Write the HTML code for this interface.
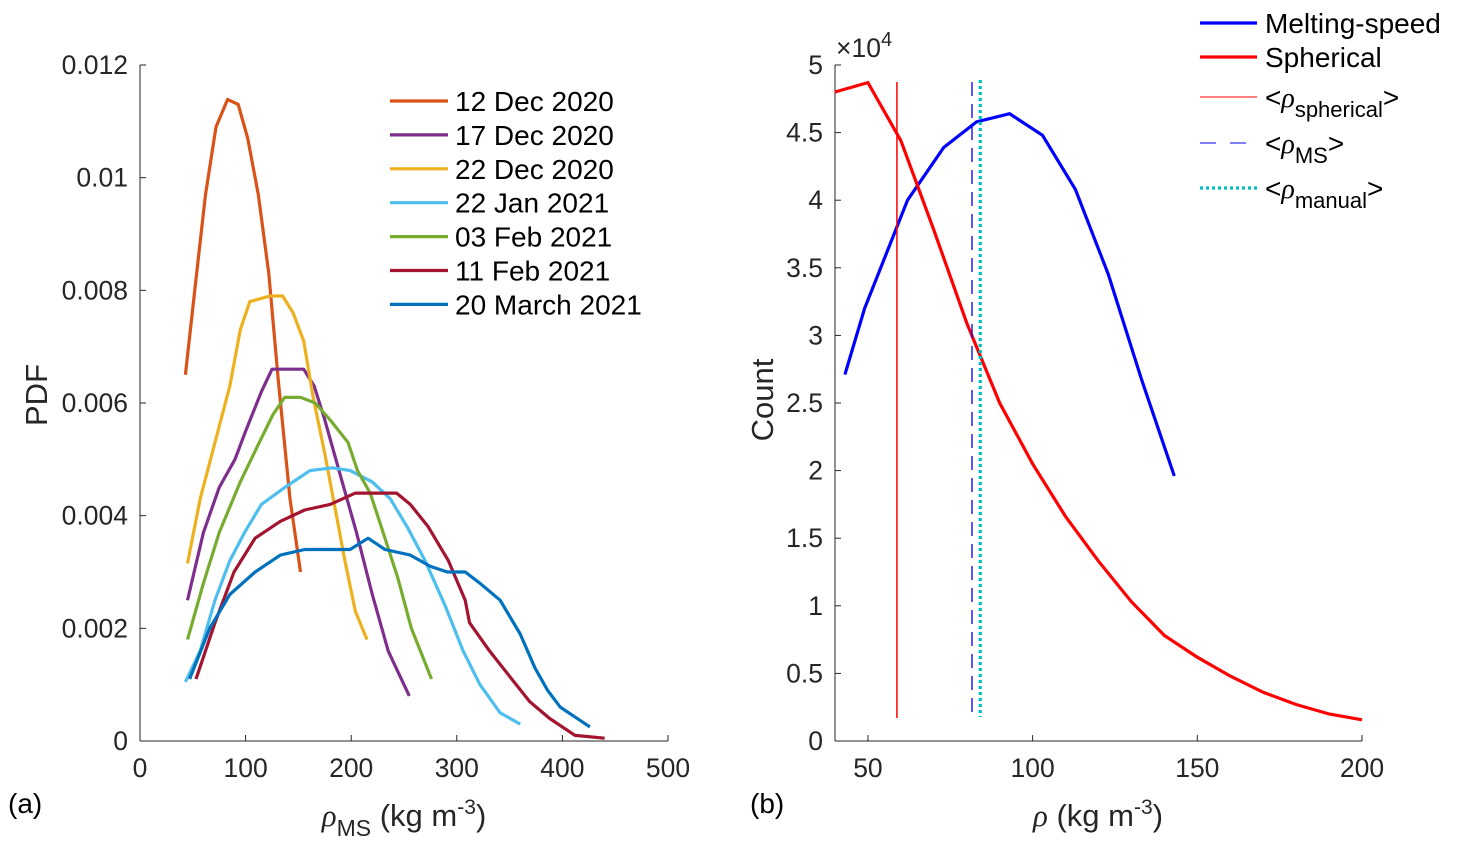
<!DOCTYPE html>
<html><head><meta charset="utf-8"><style>
html,body{margin:0;padding:0;background:#fff;}
svg{display:block;font-family:"Liberation Sans",Arial,sans-serif;}
</style></head><body>
<svg id="fig" width="1457" height="853" viewBox="0 0 1457 853" xmlns="http://www.w3.org/2000/svg">
<g id="gA"></g>
<g id="gB"></g>
</svg>
<script>
// ---------- Panel (a) data ----------
const aSeriesNames = ["12 Dec 2020","17 Dec 2020","22 Dec 2020","22 Jan 2021","03 Feb 2021","11 Feb 2021","20 March 2021"];
const aColors = ["#D95319","#7E2F8E","#EDB120","#4DBEEE","#77AC30","#A2142F","#0072BD"];
const aX0 = [43,53,62,72,83,93,102,112,122,131,142,152];
const aY0 = [0.0065,0.0082,0.0097,0.0109,0.01139,0.0113,0.0107,0.0097,0.0083,0.0064,0.0043,0.0030];
const aX1 = [45,60,75,90,100,115,125,140,155,165,175,190,205,220,235,245,255];
const aY1 = [0.0025,0.0037,0.0045,0.0050,0.0055,0.0062,0.0066,0.0066,0.0066,0.0063,0.0057,0.0047,0.0037,0.0026,0.0016,0.0012,0.0008];
const aX2 = [45,57,71,85,95,104,123,135,145,155,164,175,185,194,204,215];
const aY2 = [0.00315,0.0043,0.0053,0.0063,0.0073,0.0078,0.0079,0.0079,0.0076,0.0071,0.0061,0.0051,0.0041,0.0032,0.0023,0.0018];
const aX3 = [43,57,71,85,99,115,137,161,182,199,220,237,253,270,289,306,322,341,360];
const aY3 = [0.00105,0.0016,0.0025,0.0032,0.0037,0.0042,0.0045,0.0048,0.00485,0.0048,0.0046,0.0043,0.0038,0.0032,0.0024,0.0016,0.0010,0.0005,0.0003];
const aX4 = [45,60,75,95,113,126,137,152,166,180,197,206,218,232,244,257,276];
const aY4 = [0.0018,0.0028,0.0037,0.0046,0.0053,0.0058,0.0061,0.0061,0.0060,0.0057,0.0053,0.0048,0.0044,0.0036,0.0029,0.0020,0.0011];
const aX5 = [53,71,89,109,133,156,180,204,227,243,256,273,292,308,312,331,352,369,388,412,440];
const aY5 = [0.0011,0.0021,0.0030,0.0036,0.0039,0.0041,0.0042,0.0044,0.0044,0.0044,0.0042,0.0038,0.0032,0.0025,0.0021,0.0016,0.0011,0.0007,0.0004,0.0001,0.00005];
const aX6 = [47,66,85,109,133,156,180,199,216,232,256,275,291,308,322,341,360,374,386,398,426];
const aY6 = [0.0011,0.0020,0.0026,0.0030,0.0033,0.0034,0.0034,0.0034,0.0036,0.0034,0.0033,0.0031,0.0030,0.0030,0.0028,0.0025,0.0019,0.0013,0.0009,0.0006,0.00025];
const aXTicks = [0,100,200,300,400,500];
const aYTicks = [0,0.002,0.004,0.006,0.008,0.010,0.012];
const aYTickLabels = ["0","0.002","0.004","0.006","0.008","0.01","0.012"];

// ---------- Panel (b) data ----------
const bMSx = [43,49,62,73,83,93,103,113,123,133,143];
const bMSy = [2.71,3.2,4.0,4.39,4.58,4.64,4.48,4.08,3.45,2.68,1.96];
const bSPx = [40,50,60,70,80,90,100,110,120,130,140,150,160,170,180,190,200];
const bSPy = [4.80,4.87,4.44,3.78,3.09,2.50,2.05,1.66,1.33,1.03,0.78,0.62,0.48,0.36,0.27,0.20,0.157];
const bMeanSpherical = 58.8;
const bMeanMS = 81.6;
const bMeanManual = 84.1;
const bXTicks = [50,100,150,200];
const bYTicks = [0,0.5,1,1.5,2,2.5,3,3.5,4,4.5,5];

const NS = "http://www.w3.org/2000/svg";
const TF = 26.5, LF = 28, AF = 31;
function mk(tag, attrs, parent, text){
  const e = document.createElementNS(NS, tag);
  for (const k in attrs) e.setAttribute(k, attrs[k]);
  if (text !== undefined) e.textContent = text;
  parent.appendChild(e);
  return e;
}

// ----- Panel A -----
const gA = document.getElementById('gA');
const axL = 140, axR = 668, axT = 65, axB = 741;
const ax = v => axL + (v - 0) / 500 * (axR - axL);
const ay = v => axB - v / 0.012 * (axB - axT);
let e;
e = mk('line',{x1:axL,y1:axT,x2:axL,y2:axB,stroke:'#262626','stroke-width':1},gA);
 
e = mk('line',{x1:axL,y1:axB,x2:axR,y2:axB,stroke:'#262626','stroke-width':1},gA);
 
aXTicks.forEach((t,i)=>{
  mk('line',{x1:ax(t),y1:axB,x2:ax(t),y2:axB-6,stroke:'#262626'},gA);
  e = mk('text',{x:ax(t),y:axB+36,'text-anchor':'middle','font-size':TF,fill:'#262626'},gA,String(t));
   
});
aYTicks.forEach((t,i)=>{
  mk('line',{x1:axL,y1:ay(t),x2:axL+6,y2:ay(t),stroke:'#262626'},gA);
  e = mk('text',{x:axL-12,y:ay(t)+9,'text-anchor':'end','font-size':TF,fill:'#262626'},gA,aYTickLabels[i]);
   
});
const aXs=[aX0,aX1,aX2,aX3,aX4,aX5,aX6], aYs=[aY0,aY1,aY2,aY3,aY4,aY5,aY6];
aXs.forEach((xs,s)=>{
  const pts = xs.map((x,i)=>ax(x).toFixed(1)+','+ay(aYs[s][i]).toFixed(1)).join(' ');
  e = mk('polyline',{points:pts,fill:'none',stroke:aColors[s],'stroke-width':3.2,'stroke-linejoin':'round'},gA);
   
});
// legend A
aSeriesNames.forEach((n,i)=>{
  const y = 101 + i*33.9;
  mk('line',{x1:390,y1:y,x2:448,y2:y,stroke:aColors[i],'stroke-width':3.2},gA);
  e = mk('text',{x:455,y:y+10,'font-size':LF,fill:'#000'},gA,n);
   
});
e = mk('text',{x:47,y:395,'font-size':AF,fill:'#262626',transform:'rotate(-90 47 395)','text-anchor':'middle'},gA,'PDF');
 
e = mk('text',{x:404,y:826,'font-size':AF,fill:'#262626','text-anchor':'middle'},gA);
 
e.innerHTML = '<tspan font-family="Liberation Serif" font-style="italic">ρ</tspan><tspan font-size="23" dy="10">MS</tspan><tspan dy="-10"> (kg m</tspan><tspan font-size="21" dy="-12">-3</tspan><tspan dy="12">)</tspan>';
e = mk('text',{x:8,y:813,'font-size':28,fill:'#000'},gA,'(a)');
 

// ----- Panel B -----
const gB = document.getElementById('gB');
const bL = 835, bR = 1362, bT = 65, bB = 741;
const bx = v => bL + (v - 40) / 160 * (bR - bL);
const by = v => bB - v / 5 * (bB - bT);
e = mk('line',{x1:bL,y1:bT,x2:bL,y2:bB,stroke:'#262626'},gB);
 
e = mk('line',{x1:bL,y1:bB,x2:bR,y2:bB,stroke:'#262626'},gB);
 
bXTicks.forEach(t=>{
  mk('line',{x1:bx(t),y1:bB,x2:bx(t),y2:bB-6,stroke:'#262626'},gB);
  e = mk('text',{x:bx(t),y:bB+36,'text-anchor':'middle','font-size':TF,fill:'#262626'},gB,String(t));
   
});
bYTicks.forEach(t=>{
  mk('line',{x1:bL,y1:by(t),x2:bL+6,y2:by(t),stroke:'#262626'},gB);
  e = mk('text',{x:bL-12,y:by(t)+9,'text-anchor':'end','font-size':TF,fill:'#262626'},gB,String(t));
   
});
e = mk('text',{x:836,y:57,'font-size':TF,fill:'#262626'},gB);
 
e.innerHTML = '×10<tspan font-size="20" dy="-11">4</tspan>';
e = mk('polyline',{points:bMSx.map((x,i)=>bx(x).toFixed(1)+','+by(bMSy[i]).toFixed(1)).join(' '),fill:'none',stroke:'#0000FF','stroke-width':3.2},gB);
 
e = mk('polyline',{points:bSPx.map((x,i)=>bx(x).toFixed(1)+','+by(bSPy[i]).toFixed(1)).join(' '),fill:'none',stroke:'#FF0000','stroke-width':3.2},gB);
 
e = mk('line',{x1:bx(bMeanSpherical),y1:82,x2:bx(bMeanSpherical),y2:718,stroke:'#FF0000','stroke-width':1.5},gB);
 
e = mk('line',{x1:bx(bMeanMS),y1:82,x2:bx(bMeanMS),y2:718,stroke:'#0000FF','stroke-width':1.3,'stroke-dasharray':'14 8'},gB);
 
e = mk('line',{x1:bx(bMeanManual),y1:80,x2:bx(bMeanManual),y2:717,stroke:'#00BFBF','stroke-width':3.2,'stroke-dasharray':'3 3'},gB);
 
// legend B
const legB = [
  {y:23, c:'#0000FF', w:3.2, d:'', t:'Melting-speed'},
  {y:57, c:'#FF0000', w:3.2, d:'', t:'Spherical'},
  {y:97, c:'#FF0000', w:1, d:'', t:'<tspan>&lt;</tspan><tspan font-family="Liberation Serif" font-style="italic">ρ</tspan><tspan font-size="22" dy="10">spherical</tspan><tspan dy="-10">&gt;</tspan>'},
  {y:143, c:'#0000FF', w:1, d:'16 14', t:'<tspan>&lt;</tspan><tspan font-family="Liberation Serif" font-style="italic">ρ</tspan><tspan font-size="22" dy="10">MS</tspan><tspan dy="-10">&gt;</tspan>'},
  {y:188, c:'#00BFBF', w:3.2, d:'3 3', t:'<tspan>&lt;</tspan><tspan font-family="Liberation Serif" font-style="italic">ρ</tspan><tspan font-size="22" dy="10">manual</tspan><tspan dy="-10">&gt;</tspan>'}
];
legB.forEach(L=>{
  const a = {x1:1200,y1:L.y,x2:1257,y2:L.y,stroke:L.c,'stroke-width':L.w};
  if (L.d) a['stroke-dasharray']=L.d;
  mk('line',a,gB);
  e = mk('text',{x:1265,y:L.y+10,'font-size':LF,fill:'#000'},gB);
   
  e.innerHTML = L.t;
});
e = mk('text',{x:773,y:400,'font-size':AF,fill:'#262626',transform:'rotate(-90 773 400)','text-anchor':'middle'},gB,'Count');
 
e = mk('text',{x:1098,y:826,'font-size':AF,fill:'#262626','text-anchor':'middle'},gB);
 
e.innerHTML = '<tspan font-family="Liberation Serif" font-style="italic">ρ</tspan><tspan> (kg m</tspan><tspan font-size="21" dy="-12">-3</tspan><tspan dy="12">)</tspan>';
e = mk('text',{x:750,y:813,'font-size':28,fill:'#000'},gB,'(b)');
 
</script>
</body></html>
